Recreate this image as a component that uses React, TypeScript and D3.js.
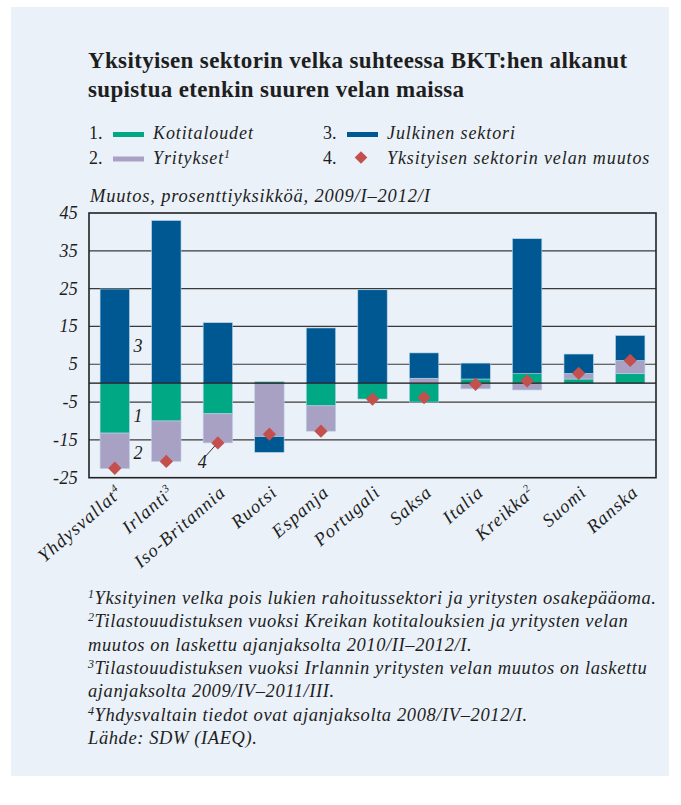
import React from "react";
import * as d3 from "d3";

const categories = ["Yhdysvallat", "Irlanti", "Iso-Britannia", "Ruotsi", "Espanja", "Portugali", "Saksa", "Italia", "Kreikka", "Suomi", "Ranska"];
const categorySup = ["4", "3", "", "", "", "", "", "", "2", "", ""];
const households = [-13.2, -10.0, -8.1, 0.4, -6.0, -4.2, -5.0, 1.1, 2.5, 1.1, 2.5];
const firms = [-9.4, -10.7, -7.7, -14.1, -6.7, 0.0, 1.3, -1.5, -1.8, 1.5, 3.5];
const publicSector = [24.9, 43.0, 16.0, -4.2, 14.6, 24.7, 6.7, 4.2, 35.7, 5.1, 6.6];
const privateChange = [-22.5, -20.7, -15.8, -13.5, -12.7, -4.2, -3.8, -0.3, 0.6, 2.6, 6.0];
const yTicks = [45, 35, 25, 15, 5, -5, -15, -25];

const seriesKeys = ["households", "firms", "public"];
const seriesColors: Record<string, string> = { households: "#00a884", firms: "#a9a1c3", public: "#005892" };
const diamondColor = "#c4504e";
const bg = "#eaf1f8";
const ink = "#1e1e1e";
const serif = "'Liberation Serif', 'Times New Roman', serif";

const titleLines = ["Yksityisen sektorin velka suhteessa BKT:hen alkanut", "supistua etenkin suuren velan maissa"];
const legendItems = [
  { n: "1.", label: "Kotitaloudet", sup: "", key: "households" },
  { n: "2.", label: "Yritykset", sup: "1", key: "firms" },
  { n: "3.", label: "Julkinen sektori", sup: "", key: "public" },
  { n: "4.", label: "Yksityisen sektorin velan muutos", sup: "", key: "diamond" },
];
const subtitle = "Muutos, prosenttiyksikköä, 2009/I–2012/I";
const footnotes: { sup: string; text: string }[] = [
  { sup: "1", text: "Yksityinen velka pois lukien rahoitussektori ja yritysten osakepääoma." },
  { sup: "2", text: "Tilastouudistuksen vuoksi Kreikan kotitalouksien ja yritysten velan" },
  { sup: "", text: "muutos on laskettu ajanjaksolta 2010/II–2012/I." },
  { sup: "3", text: "Tilastouudistuksen vuoksi Irlannin yritysten velan muutos on laskettu" },
  { sup: "", text: "ajanjaksolta 2009/IV–2011/III." },
  { sup: "4", text: "Yhdysvaltain tiedot ovat ajanjaksolta 2008/IV–2012/I." },
  { sup: "", text: "Lähde: SDW (IAEQ)." },
];

export default function App() {
  const W = 681, H = 805;
  const plot = { left: 89, right: 656, top: 213, bottom: 477.7 };
  const x = d3.scaleBand<string>().domain(categories).range([plot.left, plot.right]).paddingInner(0.43).paddingOuter(0.215);
  const y = d3.scaleLinear().domain([-25, 45]).range([plot.bottom, plot.top]);
  const bw = x.bandwidth();

  const rows = categories.map((c, i) => ({ c, households: households[i], firms: firms[i], public: publicSector[i] }));
  const stack = d3.stack<any>().keys(seriesKeys).offset(d3.stackOffsetDiverging);
  const stacked = stack(rows);

  const diamond = d3.symbol().type(d3.symbolSquare).size(88)()!;
  const legendDiamond = d3.symbol().type(d3.symbolSquare).size(80)()!;

  const gridVals = yTicks.filter((v) => v !== 45 && v !== -25);

  const c0 = x(categories[0])!;
  const c2 = x(categories[2])! + bw / 2;

  const legendFont = { fontSize: 18, letterSpacing: 0.9 };

  return (
    <div style={{ position: "absolute", left: 0, top: 0 }}>
      <svg width={W} height={H} style={{ display: "block" }} fontFamily={serif}>
        <rect x={0} y={0} width={W} height={H} fill="#ffffff" />
        <rect x={11} y={7} width={658} height={769} fill={bg} />

        {titleLines.map((t, i) => (
          <text key={i} x={88} y={68 + i * 28.5} fontSize={23} letterSpacing={0.35} fontWeight="bold" fill={ink}>{t}</text>
        ))}

        {legendItems.map((it, i) => {
          const col = i < 2 ? 0 : 1;
          const row = i % 2;
          const bx = col === 0 ? 89 : 323;
          const by = 139 + row * 24.5;
          return (
            <g key={i}>
              <text x={bx} y={by} fontSize={18} fill={ink}>{it.n}</text>
              {it.key === "diamond" ? (
                <path d={legendDiamond} transform={`translate(${bx + 38},${by - 6}) rotate(45)`} fill={diamondColor} />
              ) : (
                <rect x={bx + 24} y={by - 7} width={31} height={5} fill={seriesColors[it.key]} />
              )}
              <text x={bx + 64} y={by} fontSize={legendFont.fontSize} letterSpacing={legendFont.letterSpacing} fontStyle="italic" fill={ink}>
                {it.label}
                {it.sup && <tspan fontSize={12} dy={-6}>{it.sup}</tspan>}
              </text>
            </g>
          );
        })}

        <text x={90} y={202} fontSize={18.5} letterSpacing={0.8} fontStyle="italic" fill={ink}>{subtitle}</text>

        {gridVals.map((v) => (
          <line key={v} x1={plot.left} x2={plot.right} y1={y(v)} y2={y(v)} stroke="#3a3a3a" strokeWidth={1.2} />
        ))}

        {stacked.map((s) => (
          <g key={s.key}>
            {s.map((d, i) => {
              const y0 = Math.min(y(d[0]), y(d[1]));
              const h = Math.abs(y(d[0]) - y(d[1]));
              if (h < 0.01) return null;
              return (
                <rect key={i} x={x(categories[i])!} y={y0} width={bw} height={h} fill={seriesColors[s.key]} stroke="#b9d3e8" strokeWidth={0.6} />
              );
            })}
          </g>
        ))}

        <line x1={plot.left} x2={plot.right} y1={y(0)} y2={y(0)} stroke="#111" strokeWidth={1.4} />
        <rect x={plot.left} y={plot.top} width={plot.right - plot.left} height={plot.bottom - plot.top} fill="none" stroke="#222" strokeWidth={1.6} />

        {privateChange.map((v, i) => (
          <path key={i} d={diamond} transform={`translate(${x(categories[i])! + bw / 2},${y(v)}) rotate(45)`} fill={diamondColor} />
        ))}

        {yTicks.map((v) => (
          <text key={v} x={78} y={y(v) + 6} fontSize={18} letterSpacing={0.3} fontStyle="italic" textAnchor="end" fill={ink}>{v}</text>
        ))}

        <text x={c0 + bw + 4} y={y(9.7) + 6} fontSize={18} fontStyle="italic" fill={ink}>3</text>
        <text x={c0 + bw + 4} y={y(-8.8) + 6} fontSize={18} fontStyle="italic" fill={ink}>1</text>
        <text x={c0 + bw + 4} y={y(-18.5) + 6} fontSize={18} fontStyle="italic" fill={ink}>2</text>
        <text x={c2 - 11} y={y(-20.7) + 7} fontSize={18} fontStyle="italic" textAnchor="end" fill={ink}>4</text>
        <line x1={c2 - 12} y1={y(privateChange[2]) + 13} x2={c2 - 3} y2={y(privateChange[2]) + 3} stroke={ink} strokeWidth={0.9} />

        {categories.map((c, i) => {
          const cx = x(c)! + bw / 2;
          return (
            <text key={c} transform={`translate(${cx + 9},${494}) rotate(-41)`} fontSize={18.5} letterSpacing={1.1} fontStyle="italic" textAnchor="end" fill={ink}>
              {c}
              {categorySup[i] && <tspan fontSize={11} dy={-7}>{categorySup[i]}</tspan>}
            </text>
          );
        })}

        {footnotes.map((f, i) => (
          <text key={i} x={88} y={604 + i * 23.3} fontSize={18.5} letterSpacing={0.6} fontStyle="italic" fill={ink}>
            {f.sup && <tspan fontSize={12} dy={-6}>{f.sup}</tspan>}
            {f.sup ? <tspan dy={6}>{f.text}</tspan> : f.text}
          </text>
        ))}
      </svg>
    </div>
  );
}
